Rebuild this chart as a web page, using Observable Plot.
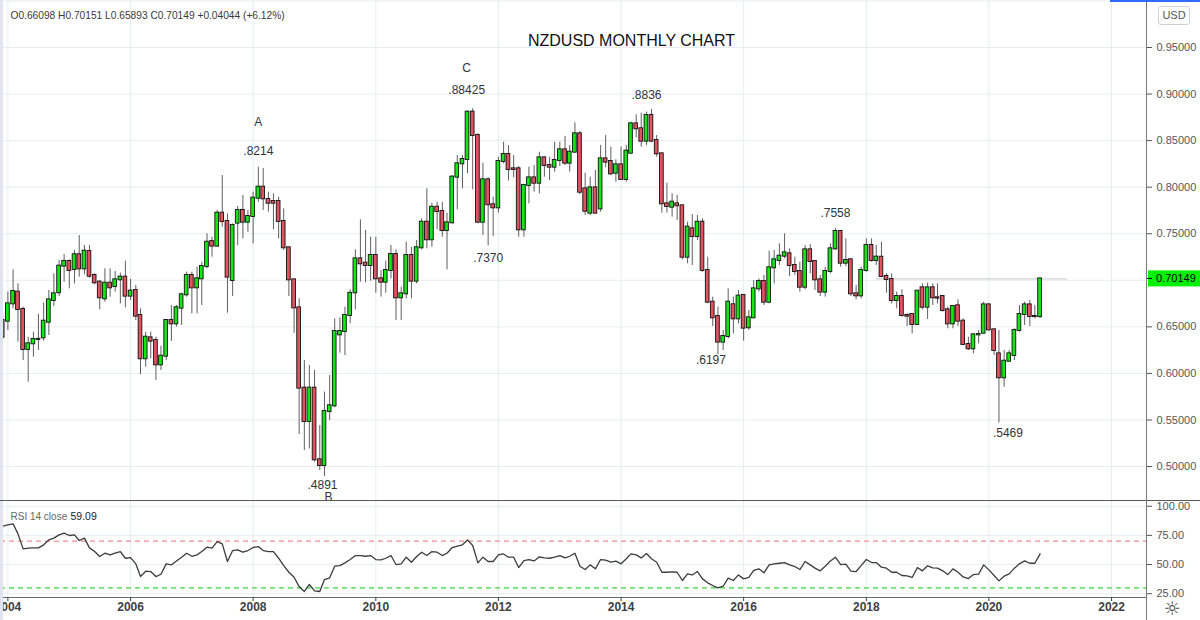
<!DOCTYPE html>
<html><head><meta charset="utf-8">
<script src="https://cdn.jsdelivr.net/npm/d3@7"></script>
<script src="https://cdn.jsdelivr.net/npm/@observablehq/plot@0.6"></script>
<style>
html,body{margin:0;padding:0;background:#fff;}
#wrap{position:relative;width:1200px;height:620px;overflow:hidden;font-family:"Liberation Sans",Arial,sans-serif;background:#fff;}
#wrap svg{display:block;}
.deco{position:absolute;}
</style></head><body><div id="wrap"></div>
<script>
// ---------- DATA (monthly NZDUSD, first candle = December 2003) ----------
const firstYear = 2003, firstMonth = 12;
const opens = [
 0.6389,
 0.6561,0.6747,0.6873,0.6687,0.6257,0.6318,0.6364,0.6382,0.6550,0.6783,0.6866,0.7152,
 0.7202,0.7116,0.7274,0.7123,0.7309,0.7052,0.6980,0.6801,0.6969,0.6934,0.7005,0.7034,
 0.6830,0.6891,0.6622,0.6157,0.6382,0.6354,0.6092,0.6185,0.6568,0.6532,0.6701,0.6844,
 0.7052,0.6919,0.7016,0.7148,0.7416,0.7367,0.7721,0.7631,0.6998,0.7614,0.7750,0.7624,
 0.7685,0.7882,0.8000,0.7868,0.7846,0.7846,0.7631,0.7349,0.7005,0.6704,0.5842,0.5484,
 0.5842,0.5072,0.5011,0.5591,0.5652,0.6414,0.6450,0.6622,0.6865,0.7230,0.7184,0.7159,
 0.7266,0.7016,0.6980,0.7105,0.7277,0.6812,0.6855,0.7266,0.6991,0.7349,0.7624,0.7435,
 0.7785,0.7739,0.7535,0.7617,0.8108,0.8251,0.8297,0.8806,0.8555,0.7624,0.8079,0.7811,
 0.7778,0.8276,0.8351,0.8197,0.8197,0.7542,0.8018,0.8100,0.8043,0.8315,0.8233,0.8215,
 0.8287,0.8401,0.8258,0.8376,0.8573,0.7982,0.7721,0.7993,0.7767,0.8304,0.8276,0.8150,
 0.8240,0.8082,0.8365,0.8680,0.8627,0.8494,0.8770,0.8501,0.8358,0.7821,0.7785,0.7821,
 0.7800,0.7248,0.7553,0.7470,0.7624,0.7105,0.6765,0.6611,0.6336,0.6396,0.6737,0.6586,
 0.6837,0.6490,0.6597,0.6908,0.6987,0.6765,0.7134,0.7213,0.7259,0.7284,0.7159,0.7095,
 0.6926,0.7327,0.7202,0.7005,0.6873,0.7095,0.7338,0.7524,0.7184,0.7220,0.6855,0.6833,
 0.7105,0.7374,0.7213,0.7248,0.7041,0.7009,0.6783,0.6826,0.6622,0.6633,0.6525,0.6919,
 0.6711,0.6919,0.6812,0.6826,0.6683,0.6532,0.6726,0.6561,0.6311,0.6264,0.6414,0.6432,
 0.6736,0.6468,0.6210,0.5953,0.6131,0.6192,0.6461,0.6633,0.6736,0.6611,0.66098
];
const highs = [
 0.6620,
 0.6873,0.7112,0.6962,0.6712,0.6389,0.6443,0.6633,0.6755,0.6891,0.7070,0.7213,0.7277,
 0.7220,0.7320,0.7481,0.7374,0.7374,0.7070,0.6998,0.7123,0.7123,0.7095,0.7077,0.7206,
 0.7009,0.6945,0.6694,0.6443,0.6443,0.6389,0.6293,0.6575,0.6730,0.6730,0.6862,0.7087,
 0.7087,0.7141,0.7195,0.7499,0.7463,0.7750,0.8125,0.7714,0.7606,0.7793,0.7911,0.7750,
 0.7946,0.8214,0.8200,0.7946,0.7929,0.7893,0.7767,0.7356,0.7010,0.6801,0.6139,0.6085,
 0.6031,0.5441,0.5799,0.5978,0.6586,0.6597,0.6711,0.6898,0.7327,0.7649,0.7535,0.7463,
 0.7463,0.7105,0.7205,0.7374,0.7327,0.6926,0.7409,0.7356,0.7428,0.7660,0.7982,0.7828,
 0.7839,0.7839,0.7721,0.8125,0.8340,0.8340,0.8816,0.8843,0.8573,0.8258,0.8100,0.7893,
 0.8322,0.8483,0.8447,0.8340,0.8222,0.8030,0.8215,0.8233,0.8376,0.8322,0.8322,0.8483,
 0.8483,0.8544,0.8448,0.8691,0.8598,0.8150,0.8107,0.8179,0.8448,0.8555,0.8430,0.8294,
 0.8430,0.8448,0.8698,0.8777,0.8795,0.8806,0.8836,0.8555,0.8365,0.8043,0.7929,0.7911,
 0.7803,0.7624,0.7706,0.7696,0.7660,0.7248,0.6819,0.6711,0.6461,0.6908,0.6819,0.6891,
 0.6845,0.6676,0.6998,0.7016,0.7052,0.7313,0.7320,0.7392,0.7499,0.7338,0.7248,0.7195,
 0.7374,0.7384,0.7213,0.7052,0.7141,0.7392,0.7558,0.7535,0.7445,0.7231,0.6944,0.7141,
 0.7445,0.7445,0.7374,0.7410,0.7070,0.7070,0.6873,0.6898,0.6640,0.6640,0.6891,0.6962,
 0.6969,0.6962,0.6962,0.6837,0.6711,0.6730,0.6790,0.6586,0.6389,0.6425,0.6461,0.6765,
 0.6747,0.6479,0.6461,0.6246,0.6246,0.6479,0.6730,0.6765,0.6783,0.6730,0.70151
];
const lows = [
 0.6360,
 0.6461,0.6694,0.6336,0.6139,0.5906,0.6175,0.6246,0.6346,0.6407,0.6719,0.6826,0.6980,
 0.6908,0.6962,0.7034,0.7059,0.7023,0.6951,0.6683,0.6765,0.6819,0.6873,0.6747,0.6705,
 0.6783,0.6568,0.5988,0.6067,0.6157,0.5924,0.6031,0.6139,0.6343,0.6497,0.6515,0.6819,
 0.6640,0.6640,0.6729,0.7123,0.7248,0.7356,0.7571,0.6647,0.6826,0.7374,0.7445,0.7517,
 0.7392,0.7839,0.7750,0.7732,0.7542,0.7445,0.7320,0.6826,0.6432,0.5344,0.5172,0.5190,
 0.5047,0.4958,0.4891,0.5494,0.5631,0.6217,0.6192,0.6533,0.6683,0.6980,0.6973,0.6991,
 0.6862,0.6819,0.6862,0.7016,0.6568,0.6568,0.6801,0.6801,0.6962,0.7327,0.7338,0.7356,
 0.7542,0.7463,0.7112,0.7606,0.7757,0.7982,0.8143,0.7971,0.7606,0.7481,0.7370,0.7470,
 0.7721,0.8251,0.8065,0.8100,0.7463,0.7463,0.7821,0.7946,0.7929,0.8107,0.8072,0.8161,
 0.8222,0.8233,0.8161,0.8365,0.7920,0.7696,0.7696,0.7714,0.7732,0.8208,0.8125,0.8054,
 0.8072,0.8054,0.8358,0.8530,0.8430,0.8448,0.8483,0.8322,0.7721,0.7721,0.7678,0.7642,
 0.7220,0.7177,0.7159,0.7428,0.7087,0.6747,0.6504,0.6197,0.6246,0.6371,0.6425,0.6532,
 0.6346,0.6461,0.6586,0.6873,0.6729,0.6747,0.6962,0.7159,0.7231,0.7041,0.7052,0.6873,
 0.6898,0.7070,0.6891,0.6826,0.6819,0.7070,0.7320,0.7141,0.7148,0.6826,0.6790,0.6801,
 0.7087,0.7195,0.7159,0.7034,0.6862,0.6747,0.6694,0.6604,0.6504,0.6425,0.6515,0.6683,
 0.6579,0.6729,0.6747,0.6658,0.6479,0.6479,0.6504,0.6300,0.6246,0.6210,0.6318,0.6425,
 0.6454,0.6192,0.5469,0.5852,0.6120,0.6139,0.6443,0.6515,0.6504,0.6586,0.65893
];
const closes = [
 0.6568,
 0.6747,0.6880,0.6687,0.6257,0.6318,0.6364,0.6366,0.6561,0.6790,0.6855,0.7152,0.7202,
 0.7105,0.7274,0.7123,0.7313,0.7044,0.6973,0.6812,0.6969,0.6919,0.7005,0.7034,0.6830,
 0.6884,0.6615,0.6157,0.6389,0.6346,0.6092,0.6185,0.6568,0.6532,0.6705,0.6844,0.7052,
 0.6919,0.7016,0.7148,0.7409,0.7367,0.7721,0.7631,0.7034,0.7589,0.7750,0.7624,0.7685,
 0.7882,0.8000,0.7875,0.7828,0.7828,0.7631,0.7349,0.7005,0.6704,0.5842,0.5484,0.5842,
 0.5072,0.5011,0.5591,0.5652,0.6450,0.6450,0.6622,0.6860,0.7230,0.7177,0.7159,0.7266,
 0.7016,0.6980,0.7105,0.7277,0.6812,0.6855,0.7266,0.6991,0.7349,0.7624,0.7435,0.7785,
 0.7739,0.7535,0.7617,0.8108,0.8251,0.8297,0.8806,0.8555,0.7624,0.8079,0.7811,0.7778,
 0.8276,0.8351,0.8190,0.8190,0.7542,0.8018,0.8100,0.8043,0.8315,0.8233,0.8215,0.8287,
 0.8401,0.8258,0.8376,0.8573,0.7946,0.7742,0.7993,0.7721,0.8304,0.8269,0.8143,0.8240,
 0.8082,0.8387,0.8680,0.8627,0.8494,0.8770,0.8494,0.8358,0.7821,0.7793,0.7839,0.7800,
 0.7248,0.7571,0.7470,0.7624,0.7105,0.6765,0.6597,0.6336,0.6396,0.6765,0.6586,0.6830,
 0.6486,0.6597,0.6908,0.6987,0.6765,0.7134,0.7220,0.7259,0.7295,0.7159,0.7095,0.6926,
 0.7327,0.7202,0.7005,0.6873,0.7095,0.7338,0.7524,0.7184,0.7213,0.6855,0.6833,0.7105,
 0.7374,0.7213,0.7249,0.7041,0.7009,0.6783,0.6826,0.6622,0.6615,0.6525,0.6883,0.6711,
 0.6919,0.6812,0.6808,0.6676,0.6532,0.6719,0.6561,0.6311,0.6264,0.6414,0.6418,0.6736,
 0.6468,0.6246,0.5953,0.6131,0.6210,0.6461,0.6633,0.6736,0.6611,0.6610,0.70149
];
const rsiValues = [
 82.9,
 84.0,84.9,76.3,63.4,64.0,64.3,64.3,66.9,71.1,72.6,75.4,76.9,
 74.9,75.4,70.6,72.6,64.3,61.1,56.9,59.7,58.3,59.7,61.1,55.4,
 56.0,50.6,39.7,44.3,44.0,39.7,41.7,50.6,49.7,53.1,56.3,59.7,
 57.1,58.3,61.1,64.9,64.0,69.7,67.7,52.6,62.0,62.6,60.6,62.0,
 64.6,65.4,62.0,61.1,61.1,55.4,49.1,43.4,39.1,31.1,26.9,32.9,
 27.4,26.9,37.1,38.6,48.6,49.1,51.4,54.3,57.7,57.7,57.1,57.7,
 54.3,54.0,55.4,57.7,50.0,50.6,56.3,52.0,56.9,60.6,57.7,61.1,
 60.6,57.7,59.7,64.6,65.7,66.9,71.1,66.3,51.4,56.3,52.6,52.6,
 58.3,59.1,56.3,56.3,47.4,53.4,54.3,53.1,56.6,55.7,55.4,56.3,
 57.7,55.7,57.1,59.7,48.6,45.7,49.7,46.3,54.3,53.7,52.0,52.9,
 50.6,54.9,59.1,58.3,55.7,59.4,54.9,52.0,43.4,43.4,43.7,43.4,
 36.3,42.0,41.1,44.0,37.7,34.3,32.0,30.0,31.4,38.3,36.3,41.1,
 37.7,39.1,44.9,46.3,42.9,49.7,50.6,51.1,51.7,49.7,48.3,45.7,
 52.6,49.7,46.9,44.6,48.6,53.1,56.3,50.0,50.3,44.3,44.0,49.1,
 54.3,51.7,51.7,47.7,46.9,43.4,43.4,40.6,40.3,38.9,47.4,44.6,
 48.9,47.1,46.9,44.6,41.4,46.3,43.4,39.4,38.0,41.4,41.7,49.7,
 45.4,40.6,36.0,40.0,42.0,46.9,50.6,53.1,51.1,51.1,59.09
];
const yearLabels = [2004,2006,2008,2010,2012,2014,2016,2018,2020,2022];
const priceTicks = [0.50,0.55,0.60,0.65,0.70,0.75,0.80,0.85,0.90,0.95,1.00];
const rsiTicks = [25,50,75,100];
const rsiOverbought = 70, rsiOversold = 30;
const pivotLabels = ["A", ".8214", "B", ".4891", "C", ".88425", ".7370", ".8836", ".6197", ".7558", ".5469"];
const pivotMonths = ["2008-02","2008-02","2009-03","2009-03","2011-08","2011-08","2011-11","2014-07","2015-08","2017-07","2020-03"];
const pivotSides  = ["high","high","low","low","high","high","low","high","low","high","low"];
const lastPrice = 0.70149;
const priceLineFrom = "2018-03-01", priceLineTo = "2021-04-15";
const headerText = "O0.66098 H0.70151 L0.65893 C0.70149 +0.04044 (+6.12%)";
const titleText = "NZDUSD MONTHLY CHART";
const rsiName = "RSI 14 close", rsiLast = "59.09";

// ---------- BUILD ----------
const candles = closes.map((c, i) => ({
  date: new Date(Date.UTC(firstYear, firstMonth - 1 + i, 1)),
  open: opens[i], high: highs[i], low: lows[i], close: c, rsi: rsiValues[i]
}));
const key = d => d3.utcFormat("%Y-%m")(d);
const byMonth = new Map(candles.map(c => [key(c.date), c]));
const pivots = pivotLabels.map((label, i) => {
  const c = byMonth.get(pivotMonths[i]);
  return {date: c.date, value: c[pivotSides[i]], label};
});
const pivotOffsets = [[0,-45],[0,-16],[4,20],[-2,8],[-6,-41],[-6,-19],[0,12],[-5,-14],[-7,5],[0,-15],[9,10]];

const W = 1200, MR = 54;
const xDomain = [new Date(Date.UTC(2003,10,18)), new Date(Date.UTC(2022,6,28))];
const yearDates = yearLabels.map(y => new Date(Date.UTC(y,0,1)));
const GREEN = "#14e614", RED = "#e2525f", GRID = "#e8ecf2", TXT = "#3f3f3f";
const font = "Liberation Sans, Arial, sans-serif";
const off = (d, n) => d3.utcDay.offset(d, n);

const priceBox = (index, scales, values, dims) => {
  const yy = scales.y(lastPrice);
  const x0 = dims.width - dims.marginRight;
  const g = d3.create("svg:g");
  g.append("rect").attr("x", x0 + 2).attr("y", yy - 8).attr("width", dims.marginRight - 2).attr("height", 16).attr("fill", "#00f000");
  g.append("line").attr("x1", x0 + 1).attr("x2", x0 + 6).attr("y1", yy).attr("y2", yy).attr("stroke", "#000");
  g.append("text").attr("x", x0 + 10).attr("y", yy).attr("dy", "0.35em").attr("font-size", 11)
    .attr("text-anchor", "start").attr("font-family", font).attr("fill", "#000").text(lastPrice.toFixed(5));
  return g.node();
};

const price = Plot.plot({
  width: W, height: 500, marginTop: 0, marginBottom: 0, marginLeft: 0, marginRight: MR,
  style: {fontFamily: font, fontSize: "11px", background: "transparent", overflow: "hidden"},
  x: {type: "utc", domain: xDomain, axis: null},
  y: {domain: [0.46353, 1.00047], axis: null},
  marks: [
    Plot.ruleY(priceTicks, {stroke: GRID, strokeWidth: 1}),
    Plot.ruleX(yearDates, {stroke: GRID, strokeWidth: 1}),
    Plot.ruleY([lastPrice], {x1: new Date(priceLineFrom), x2: new Date(priceLineTo), stroke: "#c4c7cc", strokeWidth: 1}),
    Plot.ruleX(candles, {x: "date", y1: "low", y2: "high", stroke: "#5f5f5f", strokeWidth: 1}),
    Plot.rect(candles, {
      x1: d => off(d.date, -11), x2: d => off(d.date, 11),
      y1: "open", y2: "close",
      fill: d => d.close >= d.open ? GREEN : RED,
      stroke: "#111", strokeWidth: 0.9, insetTop: -0.5, insetBottom: -0.5
    }),
    ...pivots.map((p, i) => Plot.text([p], {x: "date", y: "value", text: "label",
      dx: pivotOffsets[i][0], dy: pivotOffsets[i][1], fontSize: 12, fill: "#333"})),
    Plot.text([titleText], {frameAnchor: "top", lineAnchor: "middle", dx: 58, dy: 40, fontSize: 16, fill: "#111"}),
    Plot.text([headerText], {frameAnchor: "top-left", lineAnchor: "middle", textAnchor: "start", dx: 10, dy: 15, fontSize: 10.2, fill: "#3a3a3a"}),
    Plot.axisY(priceTicks.filter(t => t < 0.99 && Math.abs(t - 0.70) > 1e-9), {anchor: "right", tickFormat: d => d.toFixed(5),
      tickSize: 5, tickPadding: 5, label: null, color: "#555", fontSize: 11}),
    priceBox
  ]
});

const rsiPlot = Plot.plot({
  width: W, height: 120, marginTop: 0, marginBottom: 23, marginLeft: 0, marginRight: MR,
  style: {fontFamily: font, fontSize: "11px", background: "transparent", overflow: "visible"},
  x: {type: "utc", domain: xDomain, axis: null},
  y: {domain: [21.75, 104.89], axis: null},
  marks: [
    Plot.ruleY(rsiTicks, {stroke: GRID}),
    Plot.ruleX(yearDates, {stroke: GRID}),
    Plot.ruleY([rsiOverbought], {stroke: "#f38b8b", strokeWidth: 1.3, strokeDasharray: "5,4"}),
    Plot.ruleY([rsiOversold], {stroke: "#3ad83a", strokeWidth: 1.3, strokeDasharray: "5,4"}),
    Plot.lineY(candles, {x: "date", y: "rsi", stroke: "#3c3c3c", strokeWidth: 1.3}),
    Plot.ruleY([21.75], {stroke: "#6b6b6b"}),
    Plot.text([rsiName], {frameAnchor: "top-left", lineAnchor: "middle", textAnchor: "start", dx: 10, dy: 16, fontSize: 10, fill: "#666"}),
    Plot.text([rsiLast], {frameAnchor: "top-left", lineAnchor: "middle", textAnchor: "start", dx: 70, dy: 16, fontSize: 10.5, fill: "#222"}),
    Plot.axisY(rsiTicks, {anchor: "right", tickFormat: d => d.toFixed(2), tickSize: 5, tickPadding: 5, label: null, color: "#555", fontSize: 11}),
    Plot.axisX(yearDates, {anchor: "bottom", tickFormat: d3.utcFormat("%Y"), tickSize: 4, tickPadding: 1,
      label: null, color: TXT, fontSize: 12, fontWeight: "bold"})
  ]
});

const wrap = document.getElementById("wrap");
wrap.appendChild(price);
wrap.appendChild(rsiPlot);

function deco(css, html) {
  const d = document.createElement("div");
  d.className = "deco"; d.style.cssText = css; if (html) d.innerHTML = html;
  wrap.appendChild(d);
}
deco("left:0;top:0;width:3px;height:620px;background:#e1e4ee;");
deco("left:0;top:500px;width:1200px;height:1px;background:#5a5a5a;");
deco("left:1146px;top:0;width:1px;height:620px;background:#7a7a7a;");
deco("left:1110px;top:0;width:90px;height:2px;background:#2f6bff;");
deco("left:1158px;top:6px;width:30px;height:17px;border:1px solid #cfd2d8;border-radius:3px;font-size:11px;color:#555;text-align:center;line-height:17px;", "USD");
deco("left:1160px;top:597px;width:24px;height:22px;font-size:19px;color:#444;text-align:center;line-height:22px;font-family:'DejaVu Sans';", "☼");
</script></body></html>
